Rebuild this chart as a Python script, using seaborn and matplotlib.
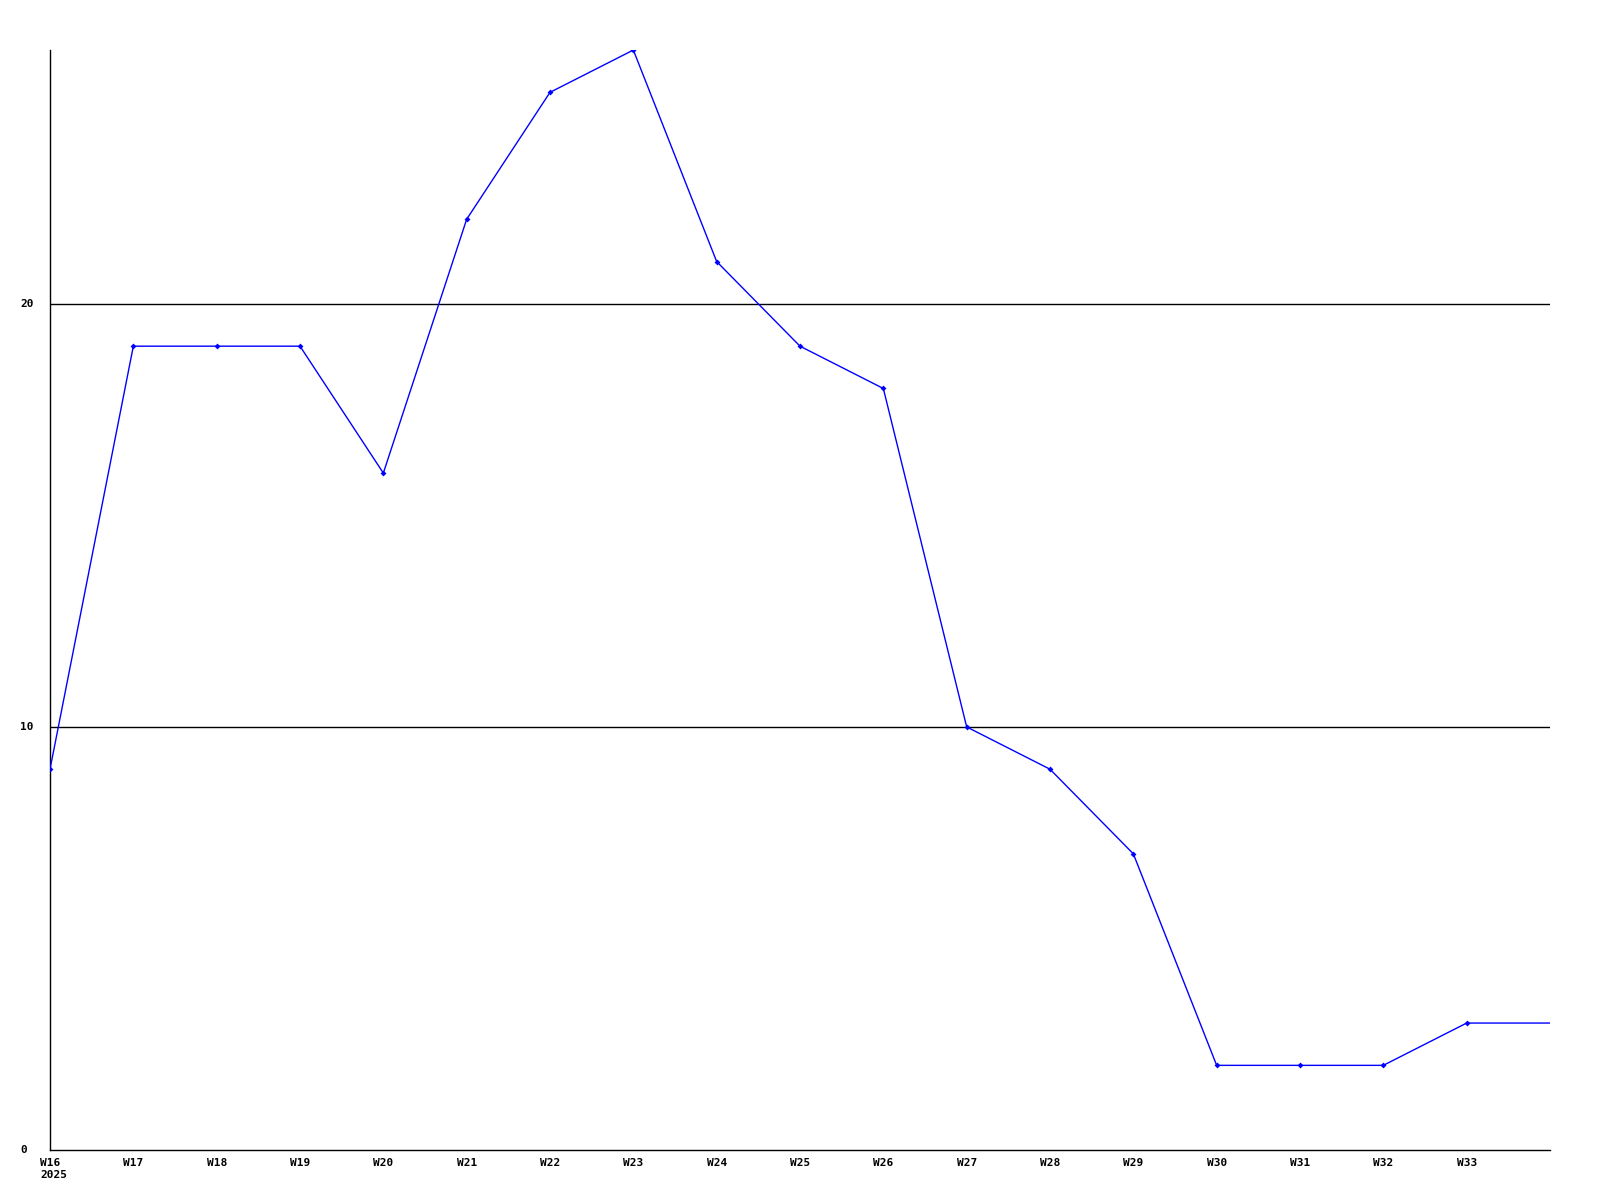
import pandas as pd
import matplotlib.pyplot as plt
import matplotlib.transforms as mtransforms
import seaborn as sns

# weekly values, 2025
weeks = [16, 17, 18, 19, 20, 21, 22, 23, 24, 25, 26, 27, 28, 29, 30, 31, 32, 33, 34]
values = [9, 19, 19, 19, 16, 22, 25, 26, 21, 19, 18, 10, 9, 7, 2, 2, 2, 3, 3]
tick_weeks = weeks[:-1]
tick_labels = ['W16\n2025'] + [f'W{w}' for w in tick_weeks[1:]]

df = pd.DataFrame({'week': weeks, 'value': values})

sns.set_theme(style='white')
plt.rcParams['font.family'] = ['DejaVu Sans Mono']
plt.rcParams['text.color'] = 'black'
plt.rcParams['xtick.color'] = 'black'
plt.rcParams['ytick.color'] = 'black'

fig = plt.figure(figsize=(16, 12), dpi=100)
ax = fig.add_axes([0.03125, 0.0417, 0.9375, 0.9166])

for y in [10, 20]:
    ax.axhline(y, color='black', linewidth=1, zorder=1)

sns.lineplot(data=df, x='week', y='value', ax=ax, color='#0000ff', linewidth=1,
             marker='D', markersize=3, markeredgewidth=0,
             markevery=list(range(len(weeks) - 1)), zorder=3)

ax.set_xlim(16, 34)
ax.set_ylim(0, 26)
ax.set_xticks(tick_weeks)
ax.set_xticklabels(tick_labels, ha='left', va='top')
ax.set_yticks([0, 10, 20])
ax.set_yticklabels(['0', '10', '20'], ha='left', va='center')
ax.tick_params(axis='both', length=0, labelsize=8, labelcolor='black')
ax.tick_params(axis='x', pad=6)
ax.tick_params(axis='y', pad=0)
for lbl in ax.get_xticklabels() + ax.get_yticklabels():
    lbl.set_fontweight('bold')

ax.set_xlabel('')
ax.set_ylabel('')
ax.spines['top'].set_visible(False)
ax.spines['right'].set_visible(False)
for s in ['left', 'bottom']:
    ax.spines[s].set_color('black')
    ax.spines[s].set_linewidth(1)

# x labels start just left of their tick
offset = mtransforms.ScaledTranslation(-10 / 100, 0, fig.dpi_scale_trans)
for lbl in ax.get_xticklabels():
    lbl.set_transform(lbl.get_transform() + offset)

# y labels left-aligned at a fixed column
yoff = mtransforms.ScaledTranslation(-30 / 100, 0, fig.dpi_scale_trans)
for lbl in ax.get_yticklabels():
    lbl.set_transform(lbl.get_transform() + yoff)

fig.savefig('out.png', dpi=100, facecolor='white')
